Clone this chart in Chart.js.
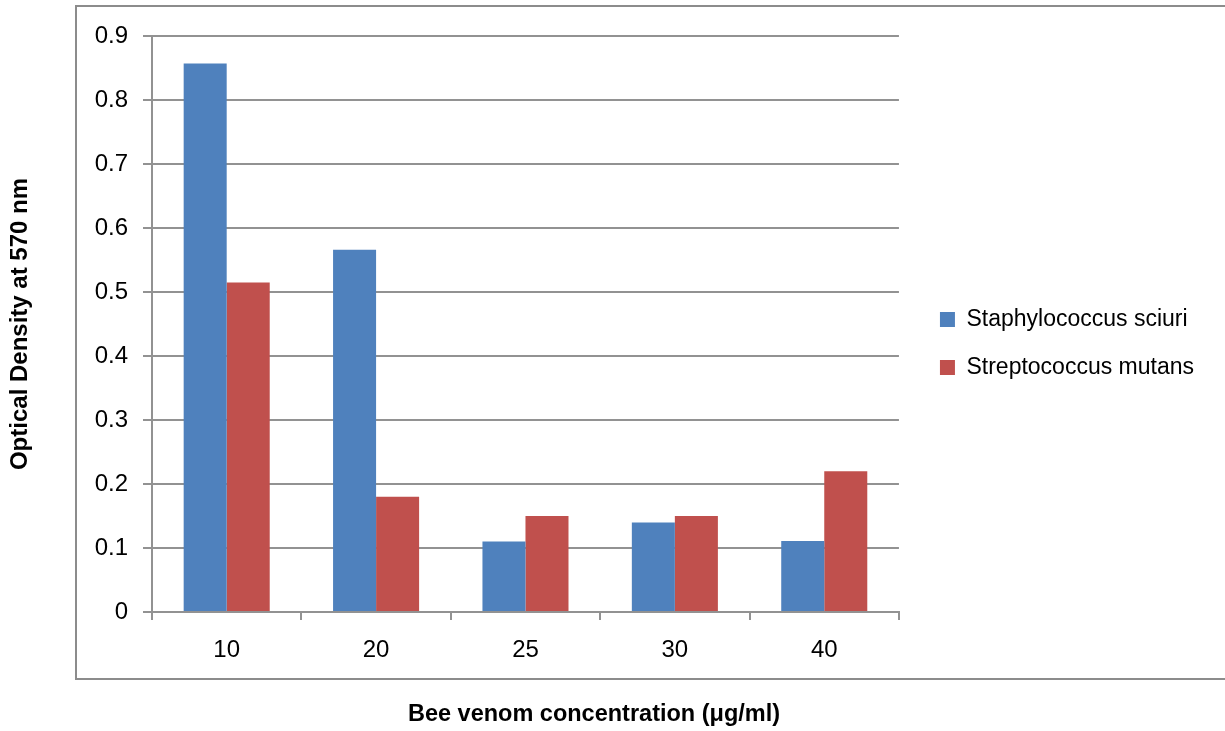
<!DOCTYPE html>
<html>
<head>
<meta charset="utf-8">
<script src="https://cdn.jsdelivr.net/npm/chart.js@4/dist/chart.umd.min.js"></script>
<style>
  html, body { margin: 0; padding: 0; background: #fff; }
  #wrap { width: 1225px; height: 731px; }
</style>
</head>
<body>
<div id="wrap"><canvas id="odChart"></canvas></div>
<script>
const concentrations = ["10", "20", "25", "30", "40"];
const sciuriOD = [0.857, 0.566, 0.110, 0.140, 0.111];
const mutansOD = [0.515, 0.180, 0.150, 0.150, 0.220];
const seriesNames = ["Staphylococcus sciuri", "Streptococcus mutans"];
const yTickValues = [0, 0.1, 0.2, 0.3, 0.4, 0.5, 0.6, 0.7, 0.8, 0.9];

const gridGray = "#929292";
const textFont = "'Liberation Sans', Arial, sans-serif";

// outer frame + nudge legend to where the original has it
const framePlugin = {
    id: "frame",
    afterLayout(chart) {
        let lg = chart.legend;
        let dx = chart.chartArea.right + 41 - (lg.left + lg.options.labels.padding);
        let dy = -40;
        lg.left += dx; lg.right += dx;
        lg.top += dy; lg.bottom += dy;
    },
    beforeDraw(chart) {
        let ctx = chart.ctx;
        ctx.save();
        ctx.strokeStyle = "#8c8c8c";
        ctx.lineWidth = 2;
        ctx.strokeRect(76, 6, 1170, 673);
        ctx.restore();
    }
};

let ctx = document.getElementById("odChart").getContext("2d");

new Chart(ctx, {
    type: "bar",
    data: {
        labels: concentrations,
        datasets: [
            {
                label: seriesNames[0],
                data: sciuriOD,
                backgroundColor: "#4F81BD",
                barPercentage: 1,
                categoryPercentage: 0.576
            },
            {
                label: seriesNames[1],
                data: mutansOD,
                backgroundColor: "#C0504D",
                barPercentage: 1,
                categoryPercentage: 0.576
            }
        ]
    },
    options: {
        responsive: true,
        maintainAspectRatio: false,
        animation: false,
        layout: { padding: { left: 0, right: 37, top: 36, bottom: 0 } },
        scales: {
            x: {
                grid: {
                    drawOnChartArea: false,
                    offset: true,
                    tickLength: 8,
                    lineWidth: 2,
                    color: gridGray
                },
                border: { color: gridGray, width: 2 },
                ticks: {
                    color: "#000",
                    padding: 16,
                    font: { family: textFont, size: 24 }
                },
                afterFit: (scale) => { scale.height = 88.8; }
            },
            y: {
                min: 0,
                max: 0.9,
                afterBuildTicks: (scale) => {
                    scale.ticks = yTickValues.map(v => ({ value: v }));
                },
                grid: {
                    color: gridGray,
                    lineWidth: 2,
                    tickLength: 9
                },
                border: { color: gridGray, width: 2 },
                ticks: {
                    color: "#000",
                    padding: 15,
                    font: { family: textFont, size: 24 },
                    callback: (value) => String(Math.round(value * 10) / 10)
                },
                title: {
                    display: true,
                    text: "Optical Density at 570 nm",
                    color: "#000",
                    padding: { top: 6, bottom: 0 },
                    font: { family: textFont, size: 24, weight: "bold" }
                },
                afterFit: (scale) => { scale.width = 152; }
            }
        },
        plugins: {
            legend: {
                position: "right",
                labels: {
                    color: "#000",
                    boxWidth: 15,
                    boxHeight: 15,
                    padding: 25,
                    font: { family: textFont, size: 23 }
                }
            },
            title: {
                display: true,
                position: "bottom",
                text: "Bee venom concentration (\u03bcg/ml)",
                color: "#000",
                padding: { top: 0, bottom: 2 },
                font: { family: textFont, size: 23.5, weight: "bold" }
            },
            tooltip: { enabled: false }
        }
    },
    plugins: [framePlugin]
});
</script>
</body>
</html>
